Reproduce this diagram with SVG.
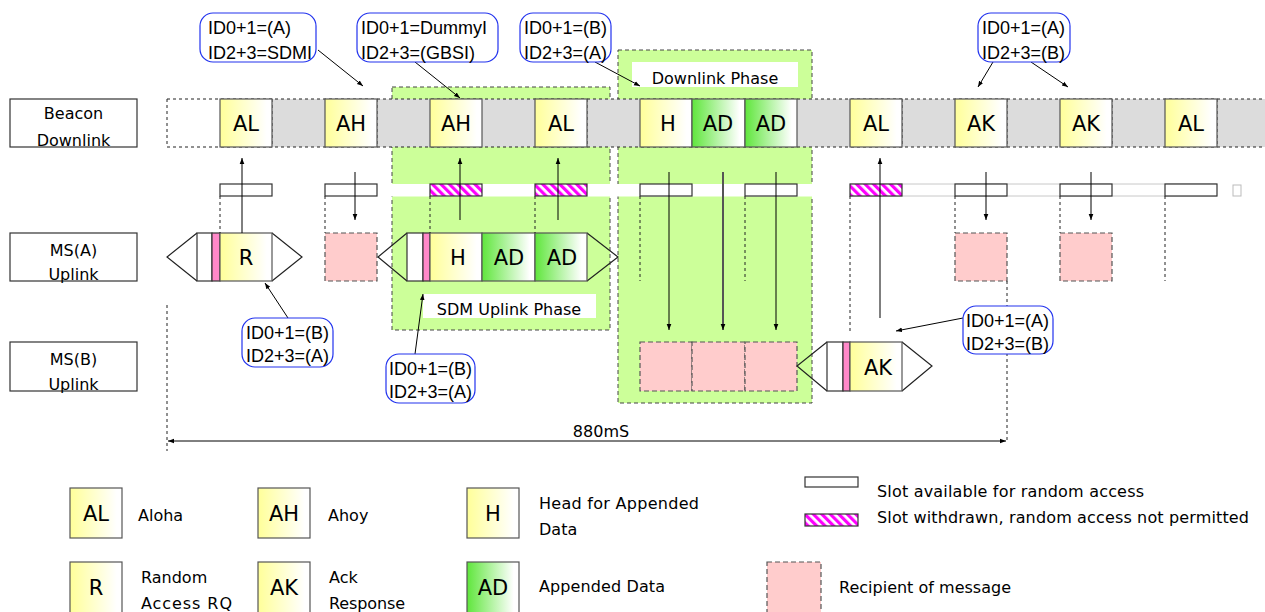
<svg xmlns="http://www.w3.org/2000/svg" width="1265" height="612" viewBox="0 0 1265 612">
<defs>
<linearGradient id="gy" x1="0" x2="1" y1="0" y2="0"><stop offset="0" stop-color="#ffff99"/><stop offset="0.9" stop-color="#ffffff"/></linearGradient>
<linearGradient id="gg" x1="0" x2="1" y1="0" y2="0"><stop offset="0" stop-color="#5fe63c"/><stop offset="0.9" stop-color="#ffffff"/></linearGradient>
<pattern id="hatch" width="6" height="6" patternUnits="userSpaceOnUse" patternTransform="rotate(-45)"><rect width="6" height="6" fill="#fff"/><rect width="3.2" height="6" fill="#ff00ff"/></pattern>
<marker id="ah" markerWidth="8" markerHeight="8" refX="6" refY="3.5" orient="auto-start-reverse" markerUnits="userSpaceOnUse"><path d="M0,1.2 L6,3.5 L0,5.8 z" fill="#000"/></marker>
<style>
.lbl{fill:#fff;stroke:#333;stroke-width:1.2}
.lt{font-family:"DejaVu Sans",sans-serif;font-size:16px;fill:#000;text-anchor:middle}
.cy{fill:url(#gy);stroke:#555;stroke-width:1.2}
.cg{fill:url(#gg);stroke:#555;stroke-width:1.2}
.ct{font-family:"DejaVu Sans",sans-serif;font-size:21px;fill:#000;text-anchor:middle}
.slot{fill:#fff;stroke:#333;stroke-width:1.2}
.hslot{fill:url(#hatch);stroke:#333;stroke-width:1.2}
.rcp{fill:#ffcccc;stroke:#555;stroke-width:1.2;stroke-dasharray:5,3}
.zone{fill:#ccff99;stroke:#444;stroke-width:1;stroke-dasharray:4,3}
.wl{fill:#fff}
.zt{font-family:"DejaVu Sans",sans-serif;font-size:16px;fill:#000;text-anchor:middle}
.tri{fill:none;stroke:#222;stroke-width:1.2}
.pw{fill:#fff;stroke:#333;stroke-width:1.2}
.pp{fill:#ff88c8;stroke:#333;stroke-width:1.2}
.co{fill:#fff;stroke:#2233ee;stroke-width:1.2}
.cot{font-family:"Liberation Sans",Arial,sans-serif;font-size:18px;fill:#000}
.dash{stroke:#222;stroke-width:1;stroke-dasharray:3,3;fill:none}
.arr{stroke:#000;stroke-width:1;fill:none}
.leg{font-family:"DejaVu Sans",sans-serif;font-size:16px;fill:#000}
</style>
</defs>
<rect width="1265" height="612" fill="#fff"/>

<!-- phase zones -->
<g id="sdm-uplink-phase">
<rect class="zone" x="392" y="87" width="218" height="243"/>
</g>
<g id="downlink-phase">
<rect class="zone" x="618" y="50" width="194" height="353"/>
</g>
<rect class="wl" x="388" y="184" width="428" height="12.5"/>
<g id="downlink-phase-label">
<rect class="wl" x="632" y="62" width="166" height="25"/>
<text class="zt" x="715" y="84">Downlink Phase</text>
</g>
<g id="sdm-uplink-phase-label">
<rect class="wl" x="423" y="294" width="173" height="24"/>
<text class="zt" x="509" y="315">SDM Uplink Phase</text>
</g>

<!-- row labels -->
<g id="beacon-label"><rect class="lbl" x="10" y="99" width="127" height="48"/><text class="lt" x="73.5" y="119">Beacon</text><text class="lt" x="73.5" y="146">Downlink</text></g>
<g id="msa-label"><rect class="lbl" x="10" y="233" width="127" height="48"/><text class="lt" x="73.5" y="256">MS(A)</text><text class="lt" x="73.5" y="280">Uplink</text></g>
<g id="msb-label"><rect class="lbl" x="10" y="342" width="127" height="49"/><text class="lt" x="73.5" y="365">MS(B)</text><text class="lt" x="73.5" y="390">Uplink</text></g>

<!-- beacon row -->
<g id="beacon-row">
<rect x="167" y="99" width="53" height="48" fill="#fff"/>
<rect x="220" y="99" width="1045" height="48" fill="#dcdcdc"/>
<line class="dash" x1="167" y1="99" x2="1265" y2="99" stroke="#333"/>
<line class="dash" x1="167" y1="147" x2="1265" y2="147"/>
<line class="dash" x1="167" y1="99" x2="167" y2="147"/>
<line class="dash" x1="272" y1="99" x2="272" y2="147"/>
<line class="dash" x1="377" y1="99" x2="377" y2="147"/>
<line class="dash" x1="587" y1="99" x2="587" y2="147"/>
<line class="dash" x1="902" y1="99" x2="902" y2="147"/>
<line class="dash" x1="1007" y1="99" x2="1007" y2="147"/>
<line class="dash" x1="1112" y1="99" x2="1112" y2="147"/>
<line class="dash" x1="1217" y1="99" x2="1217" y2="147"/>
</g>
<g id="b-al1"><rect class="cy" x="220" y="99" width="52" height="48"/><text class="ct" x="246" y="131">AL</text></g>
<g id="b-ah1"><rect class="cy" x="325" y="99" width="52" height="48"/><text class="ct" x="351" y="131">AH</text></g>
<g id="b-ah2"><rect class="cy" x="430" y="99" width="52" height="48"/><text class="ct" x="456" y="131">AH</text></g>
<g id="b-al2"><rect class="cy" x="535" y="99" width="52" height="48"/><text class="ct" x="561" y="131">AL</text></g>
<g id="b-h"><rect class="cy" x="640" y="99" width="52" height="48"/><text class="ct" x="668" y="131">H</text></g>
<g id="b-ad1"><rect class="cg" x="692" y="99" width="53" height="48"/><text class="ct" x="718" y="131">AD</text></g>
<g id="b-ad2"><rect class="cg" x="745" y="99" width="52" height="48"/><text class="ct" x="771" y="131">AD</text></g>
<g id="b-al3"><rect class="cy" x="850" y="99" width="52" height="48"/><text class="ct" x="876" y="131">AL</text></g>
<g id="b-ak1"><rect class="cy" x="955" y="99" width="52" height="48"/><text class="ct" x="981" y="131">AK</text></g>
<g id="b-ak2"><rect class="cy" x="1060" y="99" width="52" height="48"/><text class="ct" x="1086" y="131">AK</text></g>
<g id="b-al4"><rect class="cy" x="1165" y="99" width="52" height="48"/><text class="ct" x="1191" y="131">AL</text></g>

<!-- slot row -->
<g id="slot-row">
<line x1="850" y1="184" x2="1217" y2="184" stroke="#c8c8c8"/>
<line x1="850" y1="196" x2="1217" y2="196" stroke="#c8c8c8"/>
<rect class="slot" x="220" y="184" width="52" height="12"/>
<rect class="slot" x="325" y="184" width="52" height="12"/>
<rect class="hslot" x="430" y="184" width="52" height="12"/>
<rect class="hslot" x="535" y="184" width="52" height="12"/>
<rect class="slot" x="640" y="184" width="52" height="12"/>
<rect class="slot" x="745" y="184" width="52" height="12"/>
<rect class="hslot" x="850" y="184" width="52" height="12"/>
<rect class="slot" x="955" y="184" width="52" height="12"/>
<rect class="slot" x="1060" y="184" width="52" height="12"/>
<rect class="slot" x="1165" y="184" width="52" height="12"/>
<rect x="1233" y="185" width="8" height="11" fill="#fff" stroke="#bbb"/>
</g>

<!-- MS(A) row -->
<g id="msa-packet-r">
<path class="tri" d="M197,233 L167,257 L197,281"/>
<path class="tri" d="M272,233 L302,257 L272,281"/>
<rect class="pw" x="197" y="233" width="15" height="48"/>
<rect class="pp" x="212" y="233" width="8" height="48"/>
<rect class="cy" x="220" y="233" width="52" height="48"/><text class="ct" x="246" y="265">R</text>
</g>
<g id="msa-recipient-1"><rect class="rcp" x="325" y="233" width="52" height="48"/></g>
<g id="msa-packet-had">
<path class="tri" d="M407,233 L378,257 L407,281"/>
<path class="tri" d="M587,233 L618,257 L587,281"/>
<rect class="pw" x="407" y="233" width="16" height="48"/>
<rect class="pp" x="423" y="233" width="7" height="48"/>
<rect class="cy" x="430" y="233" width="52" height="48"/><text class="ct" x="458" y="265">H</text>
<rect class="cg" x="482" y="233" width="53" height="48"/><text class="ct" x="509" y="265">AD</text>
<rect class="cg" x="535" y="233" width="52" height="48"/><text class="ct" x="562" y="265">AD</text>
</g>
<g id="msa-recipient-2"><rect class="rcp" x="955" y="233" width="52" height="48"/></g>
<g id="msa-recipient-3"><rect class="rcp" x="1060" y="233" width="52" height="48"/></g>

<!-- MS(B) row -->
<g id="msb-recipient"><rect class="rcp" x="640" y="342" width="52" height="49"/><rect class="rcp" x="692" y="342" width="53" height="49"/><rect class="rcp" x="745" y="342" width="52" height="49"/></g>
<g id="msb-packet-ak">
<path class="tri" d="M827,342 L797,366 L827,391"/>
<path class="tri" d="M902,342 L932,366 L902,391"/>
<rect class="pw" x="827" y="342" width="16" height="49"/>
<rect class="pp" x="843" y="342" width="7" height="49"/>
<rect class="cy" x="850" y="342" width="52" height="49"/><text class="ct" x="878" y="375">AK</text>
</g>

<!-- connectors -->
<g id="connectors">
<line class="dash" x1="220" y1="196" x2="220" y2="233"/>
<line class="dash" x1="325" y1="196" x2="325" y2="233"/>
<line class="dash" x1="430" y1="196" x2="430" y2="233"/>
<line class="dash" x1="535" y1="196" x2="535" y2="233"/>
<line class="dash" x1="640" y1="196" x2="640" y2="281"/>
<line class="dash" x1="745" y1="196" x2="745" y2="281"/>
<line class="dash" x1="850" y1="196" x2="850" y2="331"/>
<line class="dash" x1="955" y1="196" x2="955" y2="233"/>
<line class="dash" x1="1060" y1="196" x2="1060" y2="233"/>
<line class="dash" x1="1165" y1="196" x2="1165" y2="281"/>
<line class="dash" x1="1007" y1="281" x2="1007" y2="442"/>
<line class="dash" x1="167" y1="305" x2="167" y2="451"/>

<line class="arr" x1="242" y1="233" x2="242" y2="158" marker-end="url(#ah)"/>
<line class="arr" x1="355" y1="172" x2="355" y2="220" marker-end="url(#ah)"/>
<line class="arr" x1="460" y1="220" x2="460" y2="158" marker-end="url(#ah)"/>
<line class="arr" x1="558" y1="220" x2="558" y2="158" marker-end="url(#ah)"/>
<line class="arr" x1="669" y1="172" x2="669" y2="330" marker-end="url(#ah)"/>
<line x1="723" y1="172" x2="723" y2="330" stroke="#555" stroke-width="2" marker-end="url(#ah)"/>
<line class="arr" x1="776" y1="172" x2="776" y2="330" marker-end="url(#ah)"/>
<line class="arr" x1="880" y1="318" x2="880" y2="158" marker-end="url(#ah)"/>
<line class="arr" x1="986" y1="172" x2="986" y2="220" marker-end="url(#ah)"/>
<line class="arr" x1="1091" y1="172" x2="1091" y2="220" marker-end="url(#ah)"/>

<line class="arr" x1="318" y1="50" x2="363" y2="86" marker-end="url(#ah)"/>
<line class="arr" x1="415" y1="62" x2="460" y2="98" marker-end="url(#ah)"/>
<line class="arr" x1="595" y1="62" x2="640" y2="86" marker-end="url(#ah)"/>
<line class="arr" x1="993" y1="62" x2="978" y2="87" marker-end="url(#ah)"/>
<line class="arr" x1="1031" y1="62" x2="1068" y2="87" marker-end="url(#ah)"/>
<line class="arr" x1="288" y1="318" x2="265" y2="283" marker-end="url(#ah)"/>
<line class="arr" x1="415" y1="354" x2="423" y2="294" marker-end="url(#ah)"/>
<line class="arr" x1="963" y1="318" x2="896" y2="331" marker-end="url(#ah)"/>

<line class="arr" x1="168" y1="441" x2="1006" y2="441" marker-start="url(#ah)" marker-end="url(#ah)"/>
<text class="zt" x="601" y="437">880mS</text>
</g>

<!-- callouts -->
<g id="callout-1"><rect class="co" x="200" y="13" width="116" height="49" rx="13"/><text class="cot" x="208" y="34">ID0+1=(A)</text><text class="cot" x="208" y="59">ID2+3=SDMI</text></g>
<g id="callout-2"><rect class="co" x="357" y="13" width="141" height="49" rx="13"/><text class="cot" x="361" y="34">ID0+1=DummyI</text><text class="cot" x="361" y="59">ID2+3=(GBSI)</text></g>
<g id="callout-3"><rect class="co" x="520" y="13" width="91" height="49" rx="13"/><text class="cot" x="524" y="34">ID0+1=(B)</text><text class="cot" x="524" y="59">ID2+3=(A)</text></g>
<g id="callout-4"><rect class="co" x="978" y="13" width="92" height="49" rx="13"/><text class="cot" x="982" y="34">ID0+1=(A)</text><text class="cot" x="982" y="59">ID2+3=(B)</text></g>
<g id="callout-5"><rect class="co" x="242" y="318" width="91" height="49" rx="13"/><text class="cot" x="246" y="339">ID0+1=(B)</text><text class="cot" x="246" y="362">ID2+3=(A)</text></g>
<g id="callout-6"><rect class="co" x="386" y="354" width="89" height="49" rx="13"/><text class="cot" x="389" y="375">ID0+1=(B)</text><text class="cot" x="389" y="398">ID2+3=(A)</text></g>
<g id="callout-7"><rect class="co" x="963" y="306" width="90" height="48" rx="13"/><text class="cot" x="966" y="327">ID0+1=(A)</text><text class="cot" x="966" y="350">ID2+3=(B)</text></g>

<!-- legend -->
<g id="legend-al"><rect class="cy" x="70" y="488" width="52" height="50"/><text class="ct" x="96" y="521">AL</text><text class="leg" x="138" y="521">Aloha</text></g>
<g id="legend-ah"><rect class="cy" x="258" y="488" width="52" height="50"/><text class="ct" x="284" y="521">AH</text><text class="leg" x="328" y="521">Ahoy</text></g>
<g id="legend-h"><rect class="cy" x="467" y="488" width="52" height="50"/><text class="ct" x="493" y="521">H</text><text class="leg" x="539" y="509" textLength="160">Head for Appended</text><text class="leg" x="539" y="535">Data</text></g>
<g id="legend-r"><rect class="cy" x="70" y="562" width="52" height="52"/><text class="ct" x="96" y="595">R</text><text class="leg" x="141" y="583">Random</text><text class="leg" x="141" y="609" textLength="91">Access RQ</text></g>
<g id="legend-ak"><rect class="cy" x="258" y="562" width="52" height="52"/><text class="ct" x="284" y="595">AK</text><text class="leg" x="329" y="583">Ack</text><text class="leg" x="329" y="609" textLength="76">Response</text></g>
<g id="legend-ad"><rect class="cg" x="467" y="562" width="52" height="52"/><text class="ct" x="493" y="595">AD</text><text class="leg" x="539" y="592" textLength="126">Appended Data</text></g>
<g id="legend-slot"><rect class="slot" x="805" y="477" width="53" height="10"/><text class="leg" x="877" y="497" textLength="267">Slot available for random access</text></g>
<g id="legend-hslot"><rect class="hslot" x="805" y="514" width="53" height="12"/><text class="leg" x="877" y="523" textLength="372">Slot withdrawn, random access not permitted</text></g>
<g id="legend-recipient"><rect class="rcp" x="767" y="562" width="54" height="52"/><text class="leg" x="839" y="593" textLength="172">Recipient of message</text></g>
</svg>
